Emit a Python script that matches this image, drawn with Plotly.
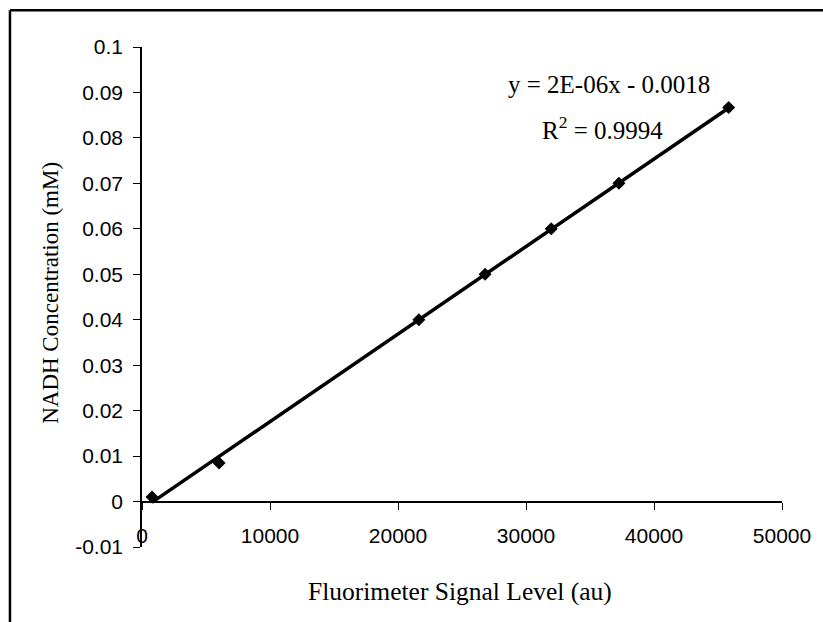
import numpy as np
import plotly.graph_objects as go

# Data
signal = [780, 6020, 21630, 26800, 31970, 37260, 45830]
conc = [0.001, 0.0085, 0.040, 0.050, 0.060, 0.070, 0.0867]

x_ticks = [0, 10000, 20000, 30000, 40000, 50000]
x_ticklabels = ["0", "10000", "20000", "30000", "40000", "50000"]
y_ticks = [-0.01, 0, 0.01, 0.02, 0.03, 0.04, 0.05, 0.06, 0.07, 0.08, 0.09, 0.1]
y_ticklabels = ["-0.01", "0", "0.01", "0.02", "0.03", "0.04", "0.05",
                "0.06", "0.07", "0.08", "0.09", "0.1"]

eq_text = "y = 2E-06x - 0.0018"
r2_text = "R<sup>2</sup> = 0.9994"
x_title = "Fluorimeter Signal Level (au)"
y_title = "NADH Concentration (mM)"

# linear trendline from the data
slope, intercept = np.polyfit(signal, conc, 1)
fit_x = [min(signal), max(signal)]
fit_y = [slope * v + intercept for v in fit_x]

SANS = "Liberation Sans, Arial, sans-serif"
SERIF = "Liberation Serif, Times New Roman, serif"

fig = go.Figure()
fig.add_trace(go.Scatter(x=fit_x, y=fit_y, mode="lines",
                         line=dict(color="black", width=3.5), hoverinfo="skip"))
fig.add_trace(go.Scatter(x=signal, y=conc, mode="markers",
                         marker=dict(symbol="diamond", size=10, color="black")))

y0, y1 = y_ticks[0], y_ticks[-1]
x_axis_pos = (0 - y0) / (y1 - y0)

fig.update_layout(
    width=823, height=622,
    margin=dict(l=142, r=36, t=47, b=75, pad=0),
    paper_bgcolor="white", plot_bgcolor="white",
    showlegend=False,
    xaxis=dict(range=[x_ticks[0], x_ticks[-1]], tickvals=x_ticks, ticktext=x_ticklabels,
               anchor="free", position=x_axis_pos,
               showline=True, linecolor="black", linewidth=2,
               ticks="outside", ticklen=7, tickwidth=1, tickcolor="black",
               ticklabelstandoff=8,
               showgrid=False, zeroline=False,
               tickfont=dict(family=SANS, size=21, color="black")),
    yaxis=dict(range=[y0, y1], tickvals=y_ticks, ticktext=y_ticklabels,
               showline=True, linecolor="black", linewidth=1.5,
               ticks="outside", ticklen=7, tickwidth=1, tickcolor="black",
               ticklabelstandoff=6,
               showgrid=False, zeroline=False,
               tickfont=dict(family=SANS, size=21, color="black")),
)

fig.add_annotation(text=eq_text, xref="paper", yref="paper", x=0.7292, y=0.9246,
                   xanchor="center", yanchor="middle", showarrow=False,
                   font=dict(family=SERIF, size=25, color="black"))
fig.add_annotation(text=r2_text, xref="paper", yref="paper", x=0.7190, y=0.8386,
                   xanchor="center", yanchor="middle", showarrow=False,
                   font=dict(family=SERIF, size=25, color="black"))
fig.add_annotation(text=x_title, xref="paper", yref="paper", x=0.4967, y=-0.0894,
                   xanchor="center", yanchor="middle", showarrow=False,
                   font=dict(family=SERIF, size=25.5, color="black"))
fig.add_annotation(text=y_title, xref="paper", yref="paper", x=-0.142, y=0.5086,
                   xanchor="center", yanchor="middle", showarrow=False, textangle=-90,
                   font=dict(family=SERIF, size=23, color="black"))

# outer frame (left and top edges visible)
fig.add_shape(type="line", xref="paper", yref="paper",
              x0=-0.2063, x1=-0.2063, y0=-0.3, y1=1.0736,
              line=dict(color="black", width=2.5))
fig.add_shape(type="line", xref="paper", yref="paper",
              x0=-0.2063, x1=1.2, y0=1.0736, y1=1.0736,
              line=dict(color="black", width=2.5))

fig.write_html("out.html")
